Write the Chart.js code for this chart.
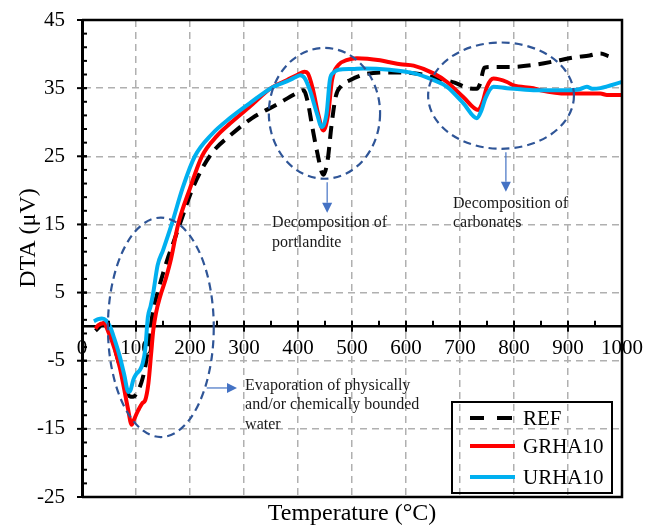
<!DOCTYPE html>
<html><head><meta charset="utf-8">
<script src="https://cdn.jsdelivr.net/npm/chart.js@4.4.1/dist/chart.umd.min.js"></script>
<style>html,body{margin:0;padding:0;background:#fff}#wrap{width:656px;height:526px;position:relative}</style>
</head><body><div id="wrap"><canvas id="c"></canvas></div>
<script>
// ---- data ----
const xTicks = [0,100,200,300,400,500,600,700,800,900,1000];
const yTicks = [-25,-15,-5,5,15,25,35,45];
const seriesNames = ['REF','GRHA10','URHA10'];

const refT   = [25,30,40,50,60,70,80,88,95,100,110,118,125,132,140,150,160,170,181,206,239,278,315,361,398,410,418,426,435,447,455,462,470,480,497,528,571,614,660,690,715,731,737,745,760,790,836,885,910,940,960,975];
const refDTA = [-0.6,-0.2,0.5,-0.5,-3,-5.8,-8.5,-10.2,-10.3,-9.9,-8.2,-5.5,-1.5,2.5,5,7.8,10.3,12.5,15,20.5,25.3,28.3,30.6,32.6,34.3,34.7,33,29.5,25.8,22.3,24.5,29.5,33.8,35.3,36.2,37.1,37.3,37.2,36.4,35.8,35,34.9,35.6,38,38.1,38.1,38.4,39.1,39.5,39.8,40.1,39.7];

const grhaT   = [25,30,40,50,61,70,76,85,92,96,104,112,117,123,128,132,137,145,155,165,178,200,222,250,274,311,350,380,400,412,418,428,437,447,456,463,475,490,509,552,570,590,614,650,676,706,734,742,750,762,787,799,836,849,898,910,960,972,1000];
const grhaDTA = [-0.3,0.2,0.5,-1,-3.4,-6,-8.3,-12,-14.4,-13.7,-12.3,-11.2,-10.8,-8.3,-4,-0.5,2,4.5,7,10,15,20.3,25,28,29.8,32.3,35,36.2,37,37.4,37.2,34.7,31.3,28.8,31.3,36.2,38.4,39.1,39.4,39.1,38.8,38.5,38.3,37.2,35.9,33.7,31.8,33,35.2,36.4,35.9,35.4,35,34.7,34.2,34.2,34.2,34,34];

const urhaT   = [22,30,37,45,52,60,70,78,86,90,95,100,107,112,117,122,127,132,140,150,166,187,209,240,274,311,350,385,395,404,412,422,435,444,453,459,466,475,500,521,570,614,650,676,706,731,740,747,762,787,836,898,920,935,945,960,1000];
const urhaDTA = [0.8,1.1,1.2,0.9,0,-1.8,-4.4,-7,-9.6,-9.3,-7.8,-7,-6.4,-5.5,-3.4,1.4,3,5,9,11.2,15,20.5,25,28.2,30.6,32.8,35,36.2,36.6,36.9,36.5,34.7,31.3,29.3,31.3,36.2,37.3,37.7,37.8,37.9,37.7,37.2,36.2,35.2,32.8,30.6,31.8,33.5,35.2,35,34.7,34.7,34.8,35.2,34.9,35,35.9];

const seriesColors = ['#000000','#ff0000','#00b0f0'];

// ---- annotations (in data units) ----
const ellipses = [
  {cx:146, cy:-0.1, rx:98, ry:16.1},
  {cx:449, cy:31.3, rx:103, ry:9.6},
  {cx:776, cy:33.9, rx:135, ry:7.8}
];
const arrows = [
  {x1:231, y1:-9.0, x2:287, y2:-9.0},
  {x1:454, y1:21.2, x2:454, y2:16.7},
  {x1:785, y1:25.6, x2:785, y2:19.8}
];
const notes = [
  {x:302, y:-8.7, lines:['Evaporation of physically','and/or chemically bounded','water']},
  {x:352, y:15.2, lines:['Decomposition of','portlandite']},
  {x:687, y:18.1, lines:['Decomposition of','carbonates']}
];

const SERIF = "'Liberation Serif','Times New Roman',serif";

function pts(xs, ys){ return xs.map((x,i)=>({x:x, y:ys[i]})); }

const decor = {
  id:'decor',
  afterDatasetsDraw(chart){
    const {ctx, chartArea:a, scales:{x:xs, y:ys}} = chart;
    const px = v => xs.getPixelForValue(v), py = v => ys.getPixelForValue(v);
    ctx.save();
    // frame
    ctx.strokeStyle='#000'; ctx.lineWidth=2.5; ctx.setLineDash([]);
    ctx.beginPath();
    ctx.moveTo(a.left, a.top); ctx.lineTo(a.right, a.top); ctx.lineTo(a.right, a.bottom); ctx.lineTo(a.left, a.bottom);
    ctx.stroke();
    // y ticks (minor every 2, major at labels)
    ctx.lineWidth=2;
    for (let v=-25; v<=45; v+=2){
      const yy = py(v);
      ctx.beginPath(); ctx.moveTo(a.left, yy); ctx.lineTo(a.left+5, yy); ctx.stroke();
    }
    yTicks.forEach(v=>{ const yy=py(v); ctx.beginPath(); ctx.moveTo(a.left-5,yy); ctx.lineTo(a.left+5,yy); ctx.stroke(); });
    // x ticks at y=0
    const y0 = py(0);
    for (let v=0; v<=1000; v+=50){
      const xx = px(v);
      const major = v%100===0;
      ctx.beginPath(); ctx.moveTo(xx, y0-6); ctx.lineTo(xx, major? y0+5 : y0); ctx.stroke();
    }
    // ellipses
    ctx.strokeStyle='#2f5597'; ctx.lineWidth=2.2; ctx.setLineDash([8,5]);
    ellipses.forEach(e=>{
      const cx=px(e.cx), cy=py(e.cy);
      const rx=Math.abs(px(e.cx+e.rx)-cx), ry=Math.abs(py(e.cy+e.ry)-cy);
      ctx.beginPath(); ctx.ellipse(cx,cy,rx,ry,0,0,Math.PI*2); ctx.stroke();
    });
    // arrows
    ctx.setLineDash([]); ctx.strokeStyle='#4472c4'; ctx.fillStyle='#4472c4'; ctx.lineWidth=1.2;
    arrows.forEach(r=>{
      const x1=px(r.x1), y1=py(r.y1), x2=px(r.x2), y2=py(r.y2);
      const ang=Math.atan2(y2-y1,x2-x1), hl=10, hw=5;
      const bx=x2-hl*Math.cos(ang), by=y2-hl*Math.sin(ang);
      ctx.beginPath(); ctx.moveTo(x1,y1); ctx.lineTo(bx,by); ctx.stroke();
      ctx.beginPath(); ctx.moveTo(x2,y2);
      ctx.lineTo(bx+hw*Math.sin(ang), by-hw*Math.cos(ang));
      ctx.lineTo(bx-hw*Math.sin(ang), by+hw*Math.cos(ang));
      ctx.closePath(); ctx.fill();
    });
    // notes
    ctx.fillStyle='#1a1a1a'; ctx.font='16px '+SERIF; ctx.textAlign='left'; ctx.textBaseline='middle';
    notes.forEach(n=>{ n.lines.forEach((t,i)=> ctx.fillText(t, px(n.x), py(n.y)+i*19.3)); });
    // legend
    const lx=a.right-170, ly=a.bottom-95, lw=160, lh=91;
    ctx.strokeStyle='#000'; ctx.lineWidth=2; ctx.strokeRect(lx, ly, lw, lh);
    ctx.font='21px '+SERIF; ctx.fillStyle='#000';
    const rows=[ly+16, ly+44, ly+75];
    chart.data.datasets.forEach((d,i)=>{
      const yy=rows[i];
      ctx.strokeStyle=d.borderColor; ctx.lineWidth=4; ctx.lineCap='butt';
      ctx.beginPath();
      if (i===0){ ctx.moveTo(lx+18,yy); ctx.lineTo(lx+32,yy); ctx.moveTo(lx+45,yy); ctx.lineTo(lx+60,yy); }
      else { ctx.moveTo(lx+18,yy); ctx.lineTo(lx+63,yy); }
      ctx.stroke();
      ctx.fillText(d.label, lx+71, yy+1);
    });
    // axis titles
    ctx.font='24px '+SERIF; ctx.textAlign='center'; ctx.fillStyle='#000';
    ctx.fillText('Temperature (°C)', (a.left+a.right)/2, 514);
    ctx.translate(29, 238); ctx.rotate(-Math.PI/2);
    ctx.fillText('DTA (μV)', 0, 0);
    ctx.restore();
  }
};

const sets = [[refT,refDTA],[grhaT,grhaDTA],[urhaT,urhaDTA]];
new Chart(document.getElementById('c'), {
  type:'scatter',
  data:{ datasets: sets.map((s,i)=>({
    label: seriesNames[i],
    data: pts(s[0], s[1]),
    showLine:true, pointRadius:0, borderWidth:4,
    borderColor: seriesColors[i], backgroundColor: seriesColors[i],
    borderDash: i===0 ? [13,8] : [],
    cubicInterpolationMode:'monotone',
    order: 3-i
  }))},
  options:{
    responsive:true, maintainAspectRatio:false, animation:false, devicePixelRatio:1,
    layout:{ padding:{ left:0, top:20, right:34, bottom:29 } },
    plugins:{ legend:{display:false}, tooltip:{enabled:false} },
    scales:{
      x:{ type:'linear', min:0, max:1000, position:{y:0},
        afterBuildTicks: s => { s.ticks = xTicks.map(v=>({value:v})); },
        afterFit: s => { s.paddingLeft = 0; s.paddingRight = 0; s.paddingTop = 0; s.paddingBottom = 0; },
        ticks:{ autoSkip:false, maxRotation:0, padding:0, color:'#000', font:{family:SERIF, size:21}, callback: v => String(v) },
        grid:{ color:'#b0b0b0', lineWidth:1.5, drawTicks:true, tickLength:9, tickColor:'rgba(0,0,0,0)' },
        border:{ display:true, color:'#000', width:2.5, dash:[7,5] }
      },
      y:{ type:'linear', min:-25, max:45, position:'left',
        afterBuildTicks: s => { s.ticks = yTicks.map(v=>({value:v})); },
        afterFit: s => { s.width = 82; s.paddingTop = 0; s.paddingBottom = 0; },
        ticks:{ padding:17, color:'#000', font:{family:SERIF, size:21}, callback: v => String(v) },
        grid:{ color:'#b0b0b0', lineWidth:1.5, drawTicks:false },
        border:{ display:true, color:'#000', width:3, dash:[7,5] }
      }
    }
  },
  plugins:[decor]
});
</script></body></html>
